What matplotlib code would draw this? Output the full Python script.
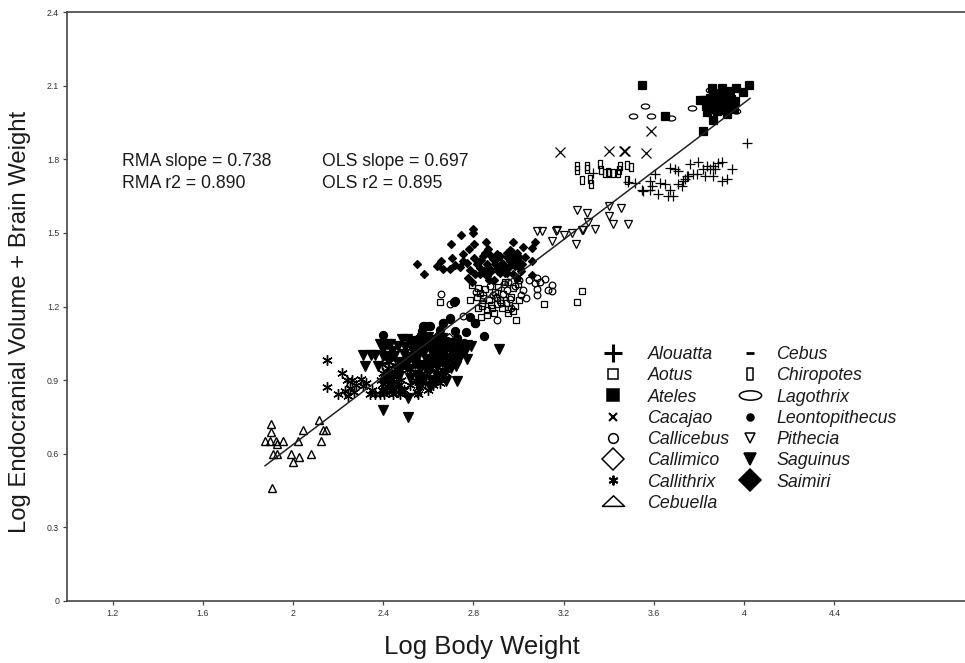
import matplotlib
matplotlib.use('Agg')
import matplotlib.pyplot as plt
from matplotlib.lines import Line2D
from matplotlib.path import Path
from matplotlib.transforms import Affine2D

plt.rcParams['font.family'] = ['Liberation Sans', 'DejaVu Sans']

# values, as (x list, y list) for each genus
cebuella_x = [1.902, 1.901, 1.876, 1.898, 1.925, 1.954, 1.929, 1.910, 1.928, 1.991, 2.028, 2.001, 2.080, 2.024, 2.046, 2.114, 2.124, 2.131, 2.146, 1.907]
cebuella_y = [0.721, 0.687, 0.652, 0.652, 0.652, 0.652, 0.641, 0.599, 0.599, 0.599, 0.588, 0.566, 0.600, 0.652, 0.695, 0.739, 0.652, 0.695, 0.695, 0.460]

callithrix_x = [2.149, 2.149, 2.216, 2.201, 2.238, 2.260, 2.245, 2.253, 2.230, 2.300, 2.312, 2.341, 2.363, 2.385, 2.395, 2.405, 2.415, 2.425, 2.435, 2.445,
                2.455, 2.465, 2.475, 2.390, 2.400, 2.412, 2.422, 2.433, 2.442, 2.452, 2.395, 2.410, 2.425, 2.440, 2.455, 2.470, 2.400, 2.420, 2.440, 2.460,
                2.490, 2.520, 2.540, 2.560, 2.548, 2.570, 2.585, 2.600, 2.620, 2.640, 2.610, 2.560, 2.590, 2.650, 2.680, 2.660, 2.700, 2.430, 2.480, 2.505,
                2.278, 2.270, 2.325, 2.352, 2.408, 2.418, 2.448, 2.462, 2.478, 2.553, 2.563]
callithrix_y = [0.980, 0.873, 0.929, 0.845, 0.902, 0.902, 0.834, 0.868, 0.854, 0.905, 0.878, 0.844, 0.844, 0.845, 0.860, 0.845, 0.875, 0.850, 0.890, 0.845,
                0.870, 0.850, 0.845, 0.900, 0.930, 0.910, 0.950, 0.880, 0.920, 0.960, 0.965, 0.860, 0.975, 0.905, 0.895, 0.880, 0.885, 0.925, 0.855, 0.915,
                0.860, 0.880, 0.900, 0.870, 0.850, 0.930, 0.890, 0.860, 0.880, 0.910, 0.950, 0.960, 0.920, 0.890, 0.930, 0.980, 0.960, 0.990, 0.900, 0.940,
                0.880, 0.850, 0.890, 0.860, 0.900, 0.935, 0.875, 0.940, 0.860, 0.845, 0.880]

saguinus_x = [2.312, 2.319, 2.363, 2.386, 2.415, 2.430, 2.400, 2.482, 2.505, 2.540, 2.378, 2.397, 2.508, 2.508, 2.912, 2.770, 2.725, 2.722, 2.680, 2.607,
              2.570, 2.450, 2.470, 2.490, 2.510, 2.530, 2.550, 2.570, 2.590, 2.610, 2.630, 2.650, 2.670, 2.690, 2.710, 2.730, 2.750, 2.770, 2.790, 2.460,
              2.480, 2.500, 2.520, 2.540, 2.560, 2.580, 2.600, 2.620, 2.640, 2.660, 2.680, 2.700, 2.720, 2.740, 2.760, 2.440, 2.470, 2.520, 2.550, 2.580,
              2.610, 2.640, 2.670, 2.700, 2.540, 2.570, 2.600, 2.630, 2.660, 2.690, 2.420, 2.435, 2.600, 2.650, 2.560, 2.620, 2.580, 2.640, 2.680, 2.530,
              2.345, 2.400, 2.440, 2.465, 2.495, 2.525, 2.555, 2.585, 2.615, 2.645, 2.675, 2.705, 2.735, 2.765]
saguinus_y = [1.004, 0.957, 1.004, 1.048, 1.048, 1.048, 1.025, 1.069, 1.069, 1.045, 0.957, 0.780, 0.750, 0.827, 1.027, 0.986, 0.895, 0.957, 0.895, 0.870,
              0.895, 1.000, 0.975, 1.005, 0.985, 1.020, 0.990, 1.030, 0.985, 1.040, 1.000, 1.045, 1.010, 1.040, 1.020, 1.030, 1.040, 1.045, 1.040, 0.945,
              0.950, 0.960, 0.945, 0.965, 0.955, 0.960, 0.950, 0.970, 0.955, 0.975, 0.985, 0.990, 0.995, 1.005, 1.010, 0.920, 0.915, 0.910, 0.920, 0.905,
              0.900, 0.915, 0.930, 0.950, 1.060, 1.070, 1.075, 1.065, 1.070, 1.050, 0.985, 1.000, 0.930, 0.905, 0.880, 0.890, 1.015, 0.985, 1.030, 0.995,
              1.004, 1.000, 1.020, 1.040, 1.035, 1.050, 1.045, 1.055, 1.010, 1.025, 0.960, 1.010, 0.985, 1.025]

leontopithecus_x = [2.397, 2.570, 2.585, 2.607, 2.696, 2.666, 2.718, 2.767, 2.807, 2.847, 2.714, 2.607, 2.645, 2.682, 2.725, 2.696, 2.666, 2.578, 2.605, 2.807,
                    2.785, 2.718, 2.630, 2.560, 2.590, 2.620, 2.650, 2.680, 2.710, 2.740, 2.760, 2.700, 2.560, 2.540, 2.670, 2.720, 2.640, 2.600, 2.580, 2.650]
leontopithecus_y = [1.083, 1.099, 1.120, 1.120, 1.150, 1.133, 1.099, 1.097, 1.133, 1.079, 1.218, 1.065, 1.080, 1.060, 1.070, 1.154, 1.133, 1.120, 1.120, 1.133,
                    1.158, 1.222, 1.050, 1.030, 1.040, 1.030, 1.020, 1.045, 1.040, 1.045, 1.050, 1.000, 1.070, 1.010, 0.985, 1.010, 1.000, 0.990, 1.060, 1.105]

saimiri_x = [2.799, 2.796, 2.745, 2.700, 2.802, 2.780, 2.856, 2.977, 3.073, 3.058, 2.866, 3.021, 2.752, 2.703, 2.802, 2.844, 2.548, 2.582, 2.656, 2.637,
             2.666, 2.696, 2.740, 2.770, 2.755, 2.829, 2.858, 2.888, 2.917, 2.947, 2.969, 2.991, 2.903, 2.932, 2.962, 2.984, 3.006, 3.058, 3.058, 2.829,
             2.807, 2.777, 2.792, 2.893, 2.858, 2.947, 2.917, 2.977, 2.991, 2.880, 2.900, 2.925, 2.950, 2.870, 2.845, 2.815, 2.785, 3.000, 3.030, 2.930,
             2.895, 2.910, 2.925, 2.940, 2.955, 2.970, 2.985, 3.000, 3.015, 2.960, 2.975, 2.990, 2.905, 2.940, 3.010, 2.720, 2.850, 2.875, 2.835, 2.865]
saimiri_y = [1.517, 1.498, 1.490, 1.453, 1.456, 1.435, 1.462, 1.464, 1.464, 1.437, 1.435, 1.444, 1.415, 1.397, 1.397, 1.405, 1.374, 1.333, 1.385, 1.365,
             1.354, 1.354, 1.362, 1.378, 1.385, 1.358, 1.372, 1.392, 1.405, 1.419, 1.422, 1.419, 1.358, 1.372, 1.385, 1.365, 1.358, 1.385, 1.328, 1.331,
             1.331, 1.317, 1.299, 1.306, 1.324, 1.337, 1.337, 1.331, 1.317, 1.345, 1.395, 1.378, 1.400, 1.310, 1.345, 1.375, 1.350, 1.400, 1.400, 1.350,
             1.375, 1.345, 1.360, 1.335, 1.355, 1.375, 1.395, 1.380, 1.375, 1.430, 1.405, 1.380, 1.415, 1.360, 1.345, 1.370, 1.420, 1.410, 1.390, 1.360]

aotus_x = [2.652, 2.785, 3.280, 3.257, 3.114, 2.987, 2.833, 2.861, 2.822, 2.836, 2.844, 2.829, 2.822, 2.792, 2.881, 2.903, 2.917, 2.910, 2.954, 2.954,
           2.984, 3.003, 2.977, 2.999, 2.991, 2.880, 2.858, 2.840, 2.930, 2.895, 2.945, 2.965, 2.925, 2.850, 2.870, 2.890, 2.975, 2.905, 2.940, 2.815]
aotus_y = [1.219, 1.228, 1.262, 1.219, 1.210, 1.147, 1.158, 1.167, 1.192, 1.201, 1.235, 1.256, 1.276, 1.286, 1.195, 1.235, 1.228, 1.280, 1.188, 1.174,
           1.201, 1.228, 1.276, 1.290, 1.317, 1.205, 1.185, 1.215, 1.250, 1.260, 1.215, 1.240, 1.195, 1.270, 1.225, 1.175, 1.180, 1.210, 1.300, 1.240]

callicebus_x = [2.655, 2.696, 2.755, 2.903, 3.033, 3.080, 3.080, 3.073, 3.095, 3.117, 3.147, 3.129, 3.150, 3.048, 3.021, 3.080, 2.947, 2.932, 2.962, 2.844,
                2.888, 2.985, 3.000, 2.920, 2.965, 2.810, 2.935, 3.010, 2.875, 2.955]
callicebus_y = [1.250, 1.209, 1.160, 1.147, 1.235, 1.245, 1.272, 1.294, 1.299, 1.313, 1.286, 1.269, 1.262, 1.306, 1.269, 1.317, 1.269, 1.249, 1.229, 1.245,
                1.245, 1.285, 1.310, 1.215, 1.195, 1.260, 1.290, 1.245, 1.285, 1.300]

ateles_x = [3.546, 3.649, 4.021, 3.962, 3.900, 3.856, 3.937, 3.993, 3.871, 3.804, 3.834, 3.878, 3.908, 3.959, 3.848, 3.893, 3.930, 3.834, 3.878, 3.922,
            3.863, 3.819, 3.850, 3.885, 3.915, 3.945, 3.865, 3.905, 3.830, 3.940, 3.870, 3.900, 3.820, 3.860, 3.890, 3.925, 3.955, 3.845, 3.880, 3.910]
ateles_y = [2.102, 1.977, 2.102, 2.092, 2.090, 2.090, 2.079, 2.075, 2.061, 2.041, 2.041, 2.038, 2.031, 2.038, 2.018, 2.018, 2.018, 1.993, 1.997, 1.984,
            1.959, 1.917, 2.050, 2.045, 2.050, 2.020, 2.030, 2.000, 2.015, 2.045, 2.005, 2.060, 2.040, 2.070, 2.025, 2.035, 2.005, 2.005, 2.010, 2.065]

lagothrix_x = [3.560, 3.509, 3.585, 3.674, 3.770, 3.848, 3.964, 3.915]
lagothrix_y = [2.018, 1.978, 1.978, 1.970, 2.007, 2.083, 1.997, 2.007]

cacajao_x = [3.184, 3.402, 3.472, 3.467, 3.563, 3.587]
cacajao_y = [1.830, 1.834, 1.834, 1.834, 1.824, 1.914]

chiropotes_x = [3.260, 3.257, 3.305, 3.305, 3.361, 3.364, 3.383, 3.402, 3.420, 3.442, 3.449, 3.482, 3.500, 3.283, 3.317, 3.319, 3.482, 3.445, 3.395]
chiropotes_y = [1.773, 1.755, 1.773, 1.762, 1.780, 1.755, 1.746, 1.743, 1.743, 1.746, 1.773, 1.776, 1.770, 1.714, 1.718, 1.698, 1.716, 1.755, 1.750]

alouatta_x = [4.011, 3.331, 3.486, 3.516, 3.546, 3.553, 3.582, 3.590, 3.582, 3.605, 3.627, 3.620, 3.649, 3.671, 3.664, 3.686, 3.708, 3.730, 3.723, 3.671,
              3.693, 3.708, 3.760, 3.797, 3.745, 3.738, 3.752, 3.775, 3.789, 3.819, 3.834, 3.863, 3.885, 3.900, 3.871, 3.848, 3.826, 3.863, 3.945, 3.900, 3.922]
alouatta_y = [1.865, 1.746, 1.707, 1.705, 1.675, 1.671, 1.711, 1.691, 1.675, 1.739, 1.705, 1.657, 1.698, 1.675, 1.650, 1.650, 1.698, 1.711, 1.691, 1.766,
              1.762, 1.752, 1.780, 1.789, 1.732, 1.721, 1.732, 1.739, 1.739, 1.759, 1.773, 1.773, 1.786, 1.789, 1.759, 1.759, 1.732, 1.732, 1.759, 1.711, 1.721]

pithecia_x = [3.169, 3.203, 3.235, 3.260, 3.305, 3.306, 3.283, 3.339, 3.401, 3.452, 3.402, 3.420, 3.484, 3.080, 3.105, 3.166, 3.253, 3.284, 3.150]
pithecia_y = [1.510, 1.491, 1.501, 1.592, 1.580, 1.544, 1.510, 1.514, 1.609, 1.603, 1.569, 1.535, 1.537, 1.507, 1.507, 1.507, 1.453, 1.512, 1.465]

callimico_x = [2.690, 2.715, 2.900]
callimico_y = [1.075, 1.060, 1.240]

fit_x = [1.876, 4.026]
fit_y = [0.551, 2.048]

x_ticks = [1.2, 1.6, 2, 2.4, 2.8, 3.2, 3.6, 4, 4.4]
y_ticks = [0, 0.3, 0.6, 0.9, 1.2, 1.5, 1.8, 2.1, 2.4]

left_names = ['Alouatta', 'Aotus', 'Ateles', 'Cacajao', 'Callicebus', 'Callimico', 'Callithrix', 'Cebuella']
right_names = ['Cebus', 'Chiropotes', 'Lagothrix', 'Leontopithecus', 'Pithecia', 'Saguinus', 'Saimiri']

# wide ellipse, narrow box and flat triangle are not stock markers
ellipse = Path.unit_circle().transformed(Affine2D().scale(1, 0.6))
legend_ellipse = Path.unit_circle().transformed(Affine2D().scale(1, 0.42))
narrow_box = Path([(-0.5, -1), (0.5, -1), (0.5, 1), (-0.5, 1), (-0.5, -1)], closed=True)
flat_triangle = Path([(-1, -0.35), (1, -0.35), (0, 0.6), (-1, -0.35)], closed=True)

fig = plt.figure(figsize=(9.65, 6.63), dpi=100)
ax = fig.add_axes([67.4 / 965, (663 - 601) / 663, (965 - 67.4) / 965, (601 - 12) / 663])


def pts(x, y, marker, size, filled=False, mew=0.9):
    ax.plot(x, y, ls='none', marker=marker, ms=size, mew=mew, mec='black',
            mfc='black' if filled else 'none')


pts(cebuella_x, cebuella_y, '^', 5.8, mew=1.0)
pts(callithrix_x, callithrix_y, (6, 2, 0), 7.5, mew=1.0)
pts(aotus_x, aotus_y, 's', 4.8)
pts(callicebus_x, callicebus_y, 'o', 4.8)
pts(callimico_x, callimico_y, 'D', 4)
pts(saimiri_x, saimiri_y, 'D', 4.4, True)
pts(saguinus_x, saguinus_y, 'v', 7, True)
pts(leontopithecus_x, leontopithecus_y, 'o', 5.8, True)
pts(pithecia_x, pithecia_y, 'v', 5.8)
pts(alouatta_x, alouatta_y, '+', 7.5)
pts(chiropotes_x, chiropotes_y, narrow_box, 5.5)
pts(cacajao_x, cacajao_y, 'x', 6.5)
pts(lagothrix_x, lagothrix_y, ellipse, 6)
pts(ateles_x, ateles_y, 's', 5.2, True)

ax.plot(fit_x, fit_y, color='#222222', lw=1.1)

ax.set_xlim(1.0, 4.979)
ax.set_ylim(0, 2.4)
ax.set_xticks(x_ticks)
ax.set_xticklabels([str(v) for v in x_ticks])
ax.set_yticks(y_ticks)
ax.set_yticklabels([str(v) for v in y_ticks])
ax.tick_params(labelsize=6.3, length=3, width=0.9, color='#444444', labelcolor='#333333', pad=3)
for side in ['left', 'bottom', 'top']:
    ax.spines[side].set_color('#444444')
    ax.spines[side].set_linewidth(1.2)
ax.spines['right'].set_visible(False)

fig.text(482 / 965, 1 - 647 / 663, 'Log Body Weight', fontsize=18.5, ha='center', va='center', color='#1a1a1a')
fig.text(20 / 965, 1 - 322 / 663, 'Log Endocranial Volume + Brain Weight', fontsize=17.2,
         rotation=90, ha='center', va='center', color='#1a1a1a')

fig.text(122 / 965, 1 - 162 / 663, 'RMA slope = 0.738', fontsize=12.7, va='center', color='#1a1a1a')
fig.text(122 / 965, 1 - 184 / 663, 'RMA r2 = 0.890', fontsize=12.7, va='center', color='#1a1a1a')
fig.text(322 / 965, 1 - 162 / 663, 'OLS slope = 0.697', fontsize=12.7, va='center', color='#1a1a1a')
fig.text(322 / 965, 1 - 184 / 663, 'OLS r2 = 0.895', fontsize=12.7, va='center', color='#1a1a1a')


def proxy(marker, size, filled=False, mew=1.1):
    return Line2D([], [], ls='none', marker=marker, ms=size, mew=mew, mec='black',
                  mfc='black' if filled else 'none')


left_handles = [proxy('+', 13, mew=2.2), proxy('s', 7), proxy('s', 8, True), proxy('x', 6, mew=1.5),
                proxy('o', 7), proxy('D', 11), proxy((6, 2, 0), 7, mew=1.4), proxy(flat_triangle, 16)]
right_handles = [proxy('_', 6, mew=2), proxy(narrow_box, 9), proxy(legend_ellipse, 16), proxy('o', 5, True),
                 proxy('v', 7), proxy('v', 8, True), proxy('D', 11.5, True)]


def species_legend(handles, names, left_px, top_px, pad):
    leg = ax.legend(handles, names, loc='upper left',
                    bbox_to_anchor=(left_px / 965, 1 - top_px / 663),
                    bbox_transform=fig.transFigure, frameon=False, borderpad=0, borderaxespad=0,
                    handlelength=1.5, handletextpad=pad, labelspacing=0.24,
                    labelcolor='#1a1a1a', prop={'style': 'italic', 'size': 12.8})
    ax.add_artist(leg)
    ax.legend_ = None


species_legend(left_handles, left_names, 600, 346, 1.17)
species_legend(right_handles, right_names, 737, 346, 0.72)

fig.savefig('out.png', dpi=100)
